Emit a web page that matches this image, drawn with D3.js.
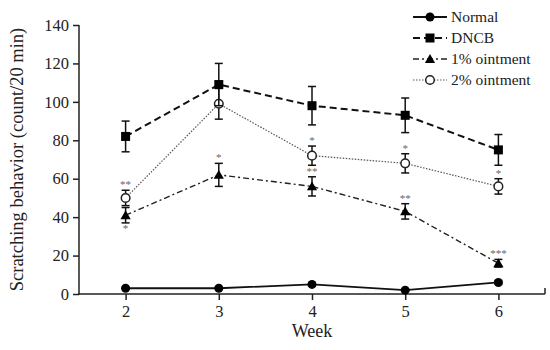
<!DOCTYPE html>
<html>
<head>
<meta charset="utf-8">
<script src="https://cdn.jsdelivr.net/npm/d3@7"></script>
<style>
  body { margin: 0; background: #fff; }
  svg, svg text { font-family: "Liberation Serif", "Times New Roman", Times, "DejaVu Serif", serif !important; }
</style>
</head>
<body>
<div id="chart"></div>
<script>
        /* data */
        var weeks = [2, 3, 4, 5, 6];
        var normalVals = [3, 3, 5, 2, 6];
        var normalErr = [0.5, 0.5, 0.8, 0.5, 0.8];
        var dncbVals = [82, 109, 98, 93, 75];
        var dncbErr = [8, 11, 10, 9, 8];
        var oint1Vals = [41, 62, 56, 43, 16];
        var oint1Err = [4, 6, 5, 4, 2];
        var oint2Vals = [50, 99, 72, 68, 56];
        var oint2Err = [4, 8, 5, 5, 4];
        // significance marks: [label above, label below] per week
        var oint1Stars = [["", "*"], ["*", ""], ["**", ""], ["**", ""], ["***", ""]];
        var oint2Stars = [["**", ""], ["", ""], ["*", ""], ["*", ""], ["*", ""]];
        var yTicks = [0, 20, 40, 60, 80, 100, 120, 140];
        var seriesNames = ["Normal", "DNCB", "1% ointment", "2% ointment"];

        var w = 550, h = 350;
        var x = d3.scaleLinear().domain([1.5, 6.5]).range([79, 545]);
        var y = d3.scaleLinear().domain([0, 140]).range([294, 25]);

        var svg = d3.select("#chart").append("svg")
            .attr("width", w)
            .attr("height", h);

        var series = [
            { name: seriesNames[0], vals: normalVals, err: normalErr, dash: null, width: 1.8, color: "#111", shape: "circle", stars: null },
            { name: seriesNames[1], vals: dncbVals, err: dncbErr, dash: "7,4", width: 2, color: "#111", shape: "square", stars: null },
            { name: seriesNames[2], vals: oint1Vals, err: oint1Err, dash: "6,3,2,3", width: 1.4, color: "#222", shape: "triangle", stars: oint1Stars },
            { name: seriesNames[3], vals: oint2Vals, err: oint2Err, dash: "1.5,1.5", width: 1.2, color: "#555", shape: "open", stars: oint2Stars }
        ];

        // axes
        var yAxis = d3.axisLeft(y).tickValues(yTicks).tickSize(6).tickPadding(4);
        var gy = svg.append("g").attr("transform", "translate(79,0)").call(yAxis);
        var xAxis = d3.axisBottom(x).tickValues(weeks).tickSize(6).tickPadding(5).tickFormat(d3.format("d"));
        var gx = svg.append("g").attr("transform", "translate(0,294)").call(xAxis);
        [gx, gy].forEach(function(g) {
            g.attr("font-family", null);
            g.select(".domain").remove();
            g.selectAll("line").attr("stroke", "#222").attr("stroke-width", 1.5);
            g.selectAll("text").attr("fill", "#222").style("font-size", "16.5px");
        });
        svg.append("line").attr("x1", 79).attr("x2", 79).attr("y1", y(140)).attr("y2", y(0) + 0.75)
            .attr("stroke", "#222").attr("stroke-width", 1.5);
        svg.append("line").attr("x1", 78).attr("x2", x(6.5)).attr("y1", y(0)).attr("y2", y(0))
            .attr("stroke", "#222").attr("stroke-width", 1.5);
        svg.append("line").attr("x1", x(6.5)).attr("x2", x(6.5)).attr("y1", y(0)).attr("y2", y(0) - 6)
            .attr("stroke", "#222").attr("stroke-width", 1.5);

        // axis titles
        svg.append("text").attr("x", x(4)).attr("y", 337).attr("text-anchor", "middle")
            .style("font-size", "18px").attr("fill", "#222").text("Week");
        svg.append("text").attr("transform", "translate(23," + y(70) + ") rotate(-90)")
            .attr("text-anchor", "middle").style("font-size", "18.5px").attr("fill", "#222")
            .text("Scratching behavior (count/20 min)");

        function drawMarker(g, shape, cx, cy, color) {
            if (shape == "circle")
                g.append("circle").attr("cx", cx).attr("cy", cy).attr("r", 4.5).attr("fill", color);
            else if (shape == "square")
                g.append("rect").attr("x", cx - 4.5).attr("y", cy - 4.5).attr("width", 9).attr("height", 9).attr("fill", color);
            else if (shape == "triangle")
                g.append("path").attr("transform", "translate(" + cx + "," + (cy + 1) + ")")
                    .attr("d", d3.symbol().type(d3.symbolTriangle).size(45)).attr("fill", color);
            else
                g.append("circle").attr("cx", cx).attr("cy", cy).attr("r", 4.3)
                    .attr("fill", "#fff").attr("stroke", "#222").attr("stroke-width", 1.5);
        }

        var line = d3.line()
            .x(function(d, i) { return x(weeks[i]); })
            .y(function(d) { return y(d); });

        // draw back to front: 2%, 1%, DNCB, Normal
        series.slice().reverse().forEach(function(s) {
            var g = svg.append("g");
            g.append("path").attr("d", line(s.vals)).attr("fill", "none")
                .attr("stroke", s.color).attr("stroke-width", s.width)
                .attr("stroke-dasharray", s.dash);
            // error bars
            s.vals.forEach(function(v, i) {
                var cx = x(weeks[i]);
                var top = y(v + s.err[i]), bot = y(v - s.err[i]);
                g.append("line").attr("x1", cx).attr("x2", cx).attr("y1", top).attr("y2", bot)
                    .attr("stroke", "#111").attr("stroke-width", 1.5);
                [top, bot].forEach(function(yy) {
                    g.append("line").attr("x1", cx - 4).attr("x2", cx + 4).attr("y1", yy).attr("y2", yy)
                        .attr("stroke", "#111").attr("stroke-width", 1.5);
                });
            });
            s.vals.forEach(function(v, i) {
                drawMarker(g, s.shape, x(weeks[i]), y(v), "#000");
            });
            // significance stars
            if (s.stars) {
                s.stars.forEach(function(st, i) {
                    var cx = x(weeks[i]);
                    if (st[0])
                        g.append("text").attr("x", cx).attr("y", y(s.vals[i] + s.err[i]) - 2)
                            .attr("text-anchor", "middle").style("font-size", "11px").attr("fill", "#666").text(st[0]);
                    if (st[1])
                        g.append("text").attr("x", cx).attr("y", y(s.vals[i] - s.err[i]) + 9)
                            .attr("text-anchor", "middle").style("font-size", "11px").attr("fill", "#666").text(st[1]);
                });
            }
        });

        // legend
        var legend = svg.append("g");
        series.forEach(function(s, i) {
            var ly = 17 + i * 21;
            legend.append("line").attr("x1", 413).attr("x2", 447).attr("y1", ly).attr("y2", ly)
                .attr("stroke", s.color).attr("stroke-width", s.width).attr("stroke-dasharray", s.dash);
            drawMarker(legend, s.shape, 430, ly, "#000");
            legend.append("text").attr("x", 451).attr("y", ly + 5).style("font-size", "15.5px")
                .attr("fill", "#222").text(s.name);
        });
</script>
</body>
</html>
